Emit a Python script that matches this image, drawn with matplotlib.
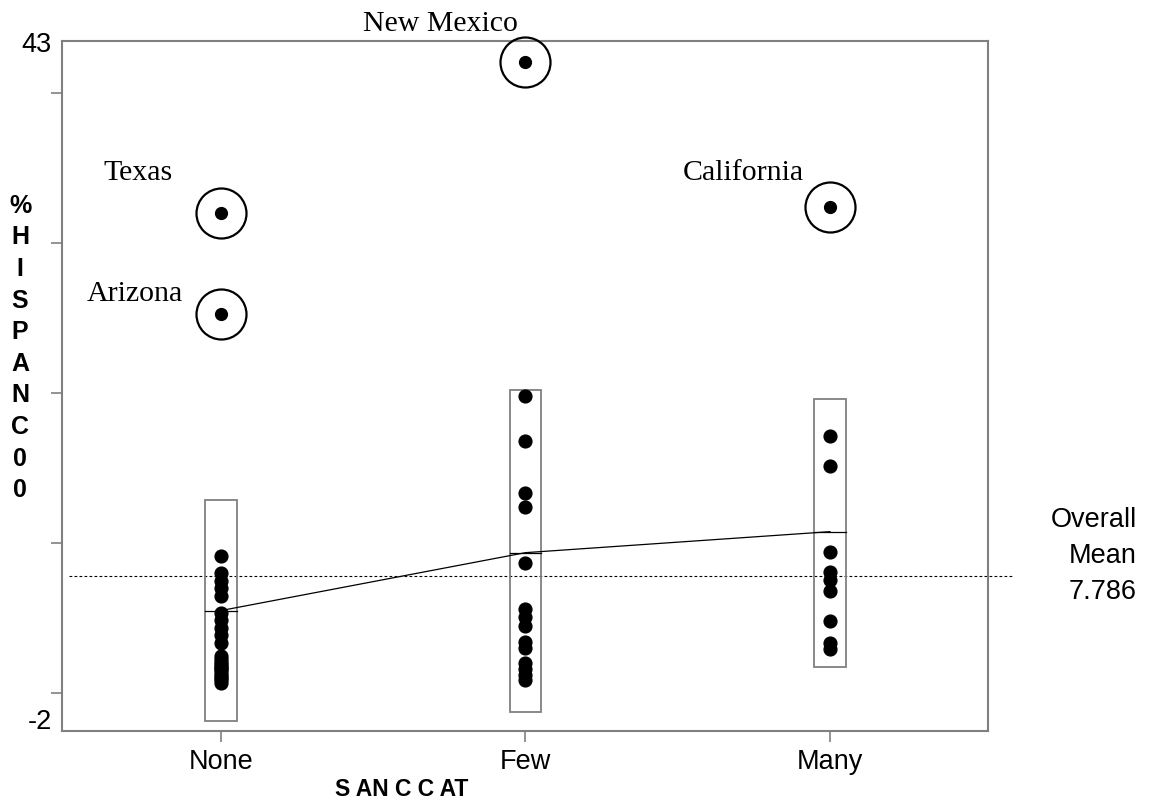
import numpy as np
import matplotlib.pyplot as plt
from matplotlib.patches import Rectangle

categories = ['None', 'Few', 'Many']

# percent hispanic by sanctuary category (outlying states listed apart)
none_pct = [9.13, 7.98, 7.49, 6.98, 6.47, 5.35, 4.87, 4.37, 3.87, 3.35,
            2.45, 2.3, 2.1, 1.95, 1.8, 1.7, 1.6, 1.45, 1.3, 1.15, 1.0, 0.85, 0.7]
few_pct = [19.8, 16.8, 13.35, 12.4, 8.69, 5.63, 5.07, 4.47, 3.4, 3.0,
           2.0, 1.6, 1.2, 0.9]
many_pct = [17.15, 15.15, 9.42, 8.09, 7.53, 6.82, 4.82, 3.31, 2.91]

outlier_names = ['Texas', 'Arizona', 'New Mexico', 'California']
outlier_cat = [0, 0, 1, 2]
outlier_pct = [32.0, 25.3, 42.1, 32.4]

# limits of the boxes drawn round each group
box_lo = [-1.85, -1.25, 1.71]
box_hi = [12.87, 20.2, 19.58]

overall_mean = 7.786

groups = [none_pct, few_pct, many_pct]
xs = np.arange(1, 4)
means = []
for i, g in enumerate(groups):
    allv = g + [v for v, c in zip(outlier_pct, outlier_cat) if c == i]
    means.append(np.mean(allv))

gray = '#808080'
sans = 'Liberation Sans'
serif = 'Liberation Serif'

fig = plt.figure(figsize=(11.51, 8.02), dpi=100)
ax = fig.add_axes([0.0539, 0.0885, 0.8045, 0.8604])

half = 0.051
for i in range(3):
    ax.add_patch(Rectangle((xs[i] - half, box_lo[i]), 2 * half,
                           box_hi[i] - box_lo[i], fill=False,
                           edgecolor=gray, lw=1.3, zorder=2))
    ax.plot([xs[i] - half, xs[i] + half], [means[i], means[i]],
            color='black', lw=0.9, zorder=3)

ax.plot(xs, means, color='black', lw=0.9, zorder=3)

for i, g in enumerate(groups):
    ax.plot([xs[i]] * len(g), g, 'o', color='black', ms=9.2, zorder=4)

ox = [xs[c] for c in outlier_cat]
ax.plot(ox, outlier_pct, 'o', color='black', ms=8.5, zorder=4, clip_on=False)
ax.plot(ox, outlier_pct, 'o', mfc='none', mec='black', ms=36, mew=1.6,
        zorder=4, clip_on=False)

offsets = [(-83, 40), (-86, 20), (-85, 38), (-87, 34)]
for name, x, y, off in zip(outlier_names, ox, outlier_pct, offsets):
    ax.annotate(name, (x, y), xytext=off, textcoords='offset pixels',
                ha='center', va='center', fontsize=21.5, family=serif,
                annotation_clip=False)

ax.axhline(overall_mean, xmin=0.0076, xmax=1.027, color='black', lw=0.8,
           ls=(0, (2.5, 2)), clip_on=False, zorder=1)
ax.text(1.161, 0.253, 'Overall\nMean\n%.3f' % overall_mean,
        transform=ax.transAxes, ha='right', va='center', fontsize=19.5,
        family=sans, linespacing=1.5)

ax.set_xlim(0.478, 3.519)
ax.set_ylim(-2.53, 43.47)
ax.set_xticks(xs)
ax.set_xticklabels(categories, fontsize=19.5, family=sans)
ax.set_yticks([0, 10, 20, 30, 40])
ax.set_yticklabels([])
ax.tick_params(axis='both', color=gray, width=1.2, length=8,
               direction='out', pad=5)
ax.text(-0.011, 43.2, '43', transform=ax.get_yaxis_transform(),
        ha='right', va='center', fontsize=19.5, family=sans)
ax.text(-0.011, -1.9, '-2', transform=ax.get_yaxis_transform(),
        ha='right', va='center', fontsize=19.5, family=sans)

for s in ax.spines.values():
    s.set_color(gray)
    s.set_linewidth(1.5)

fig.text(402 / 1151, 1 - 789 / 802, 'S AN C C AT', ha='center',
         va='center', fontsize=16.5, fontweight='bold', family=sans)
fig.text(20 / 1151, 1 - 348 / 802, '\n'.join('%HISPANC00'), ha='center',
         va='center', fontsize=18, fontweight='bold', family=sans,
         linespacing=1.4)

fig.savefig('out.png', dpi=100)
